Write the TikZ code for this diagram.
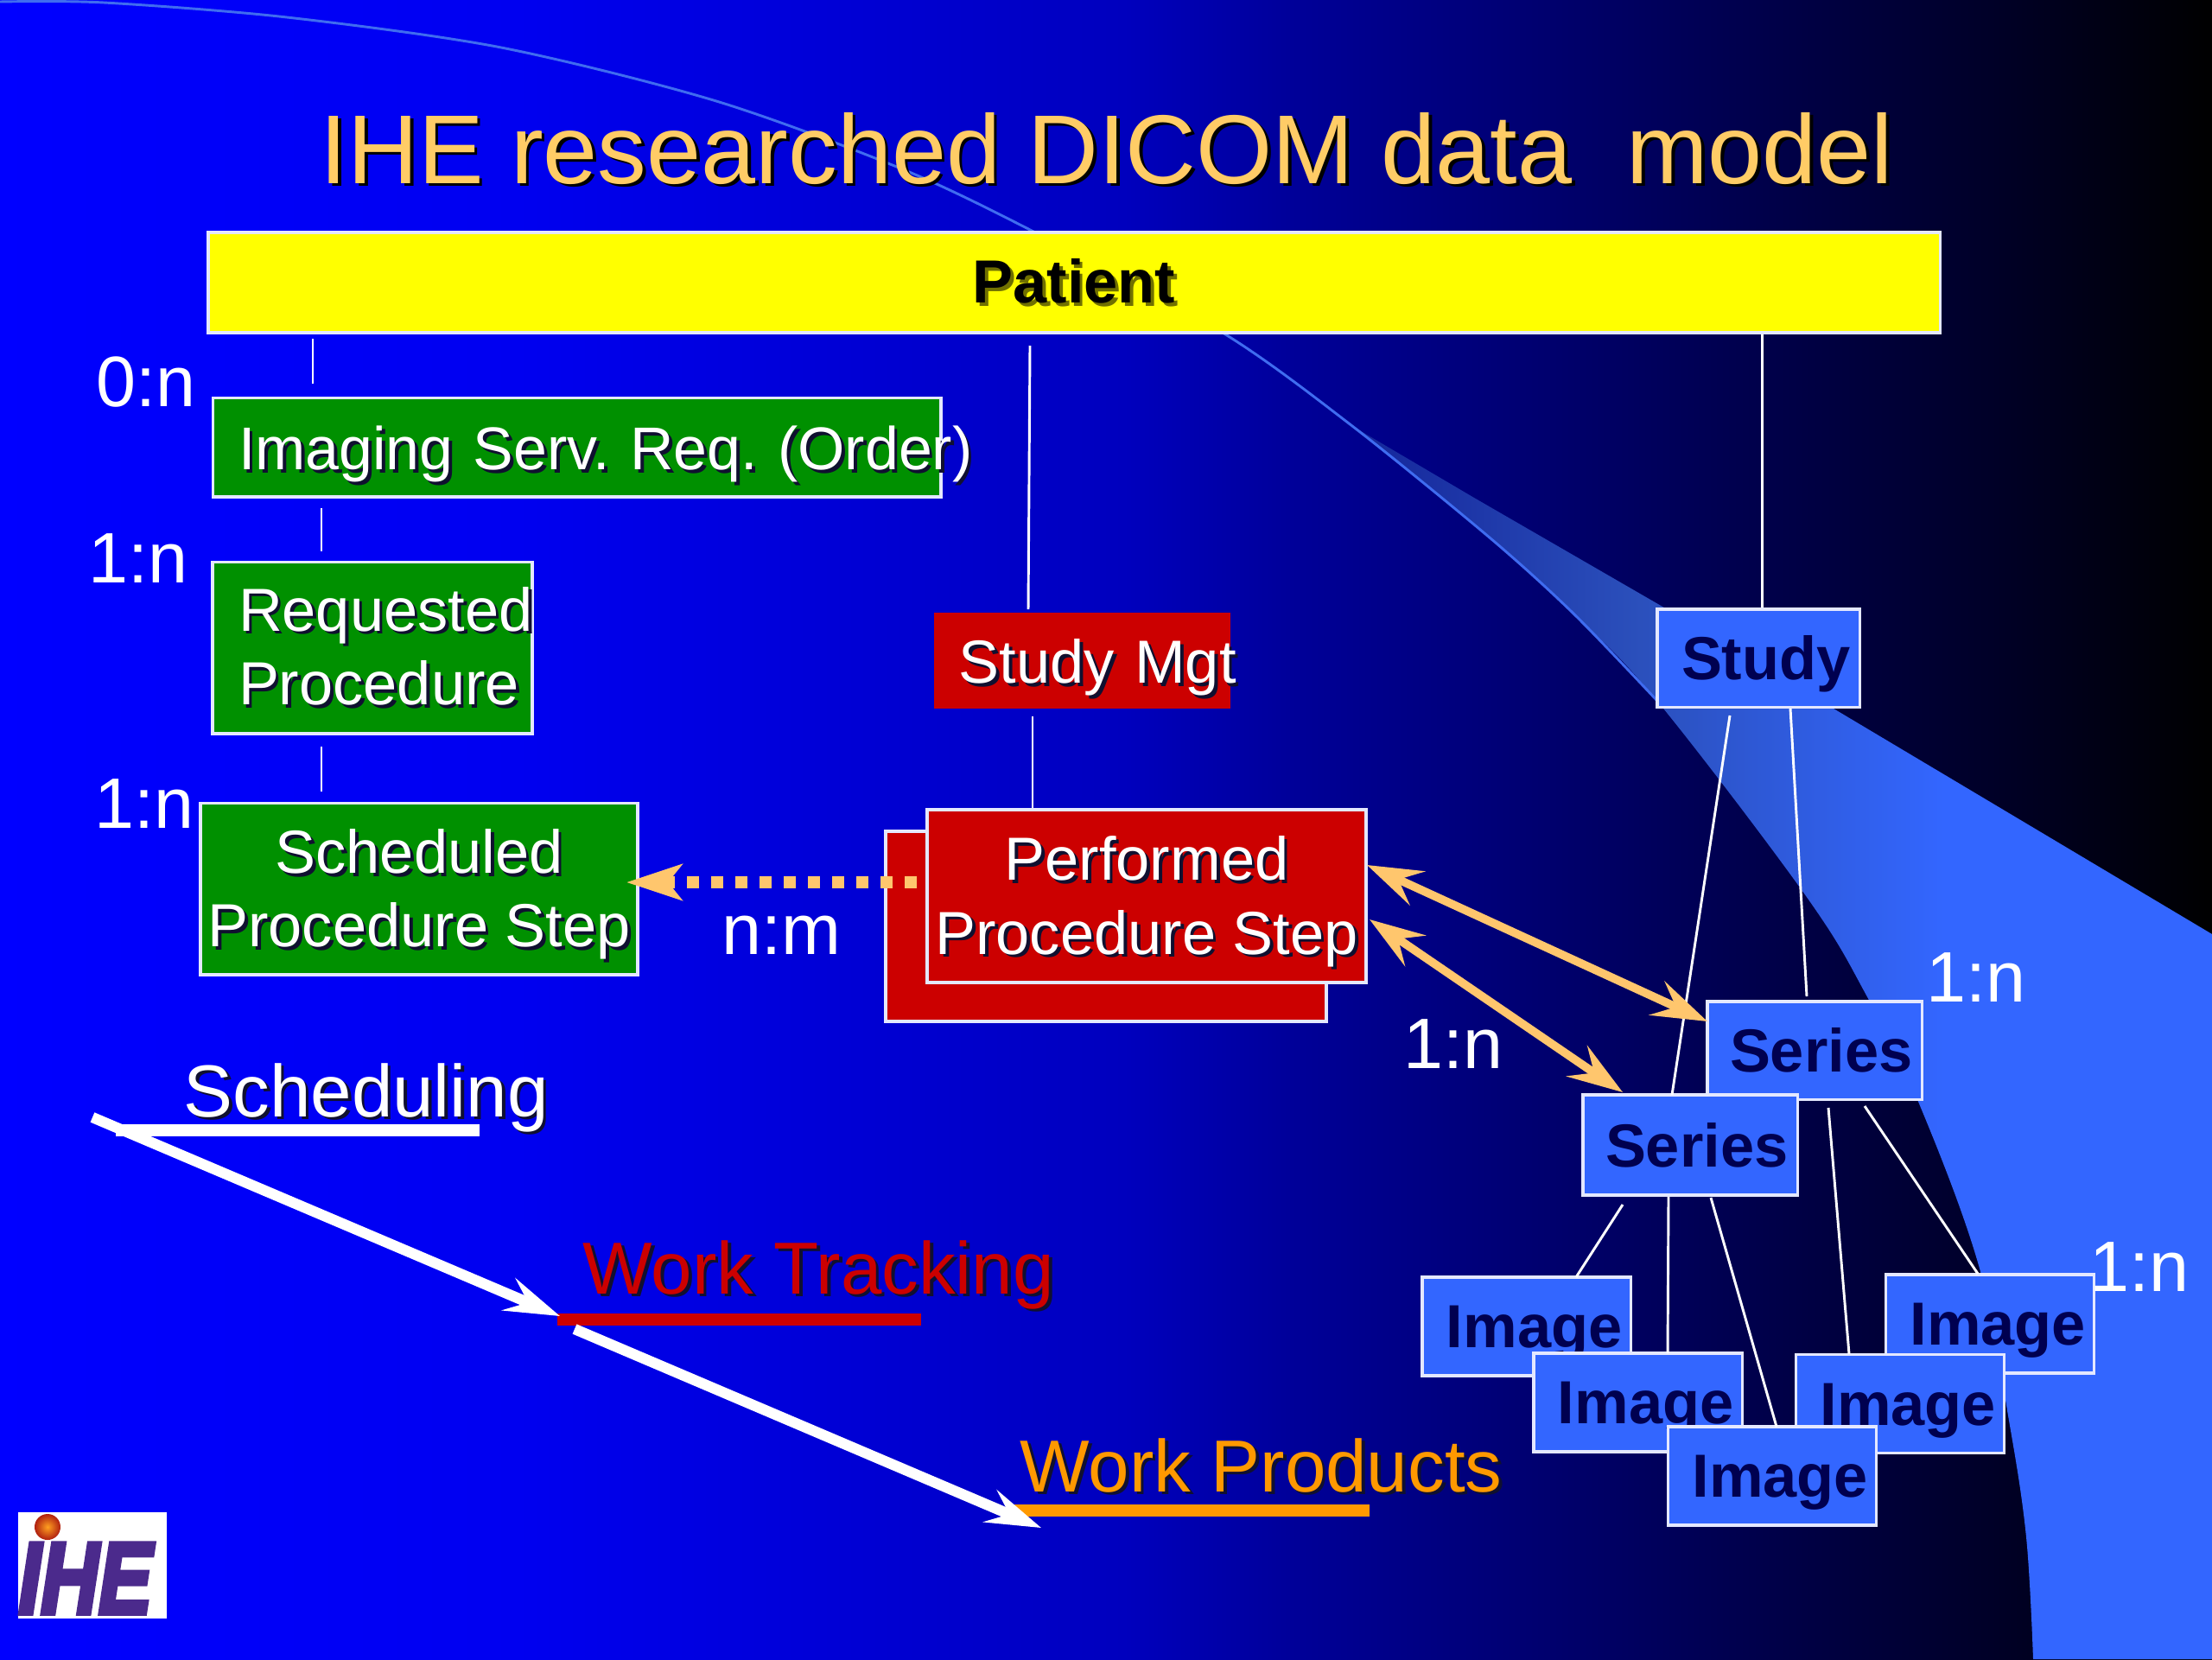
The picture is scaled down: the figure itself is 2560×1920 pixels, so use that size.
\documentclass[tikz,border=0pt]{standalone}
\usepackage{fontspec}
\setmainfont{Liberation Sans}
\newfontfamily\logofont[FakeBold=5]{Liberation Sans}
\usetikzlibrary{arrows.meta}
\frenchspacing
\definecolor{bgA}{HTML}{0000FF}\definecolor{bgB}{HTML}{0000F0}\definecolor{bgC}{HTML}{0000BE}
\definecolor{bgD}{HTML}{000098}\definecolor{bgE}{HTML}{000050}\definecolor{bgF}{HTML}{000028}\definecolor{bgG}{HTML}{000000}
\definecolor{swA}{HTML}{14259A}\definecolor{swB}{HTML}{2B50BC}\definecolor{swC}{HTML}{3366FF}
\definecolor{titlec}{HTML}{FFCC66}\definecolor{arrowc}{HTML}{FFC66D}\definecolor{prodc}{HTML}{FF9900}
\definecolor{greenc}{HTML}{009000}\definecolor{redc}{HTML}{CC0000}\definecolor{bluebox}{HTML}{3366FF}
\definecolor{navy}{HTML}{000050}\definecolor{edge}{HTML}{E4E8FF}\definecolor{shadowc}{HTML}{101030}
\definecolor{logoc}{HTML}{4B2A8C}\definecolor{arcc}{HTML}{3F6CF0}\definecolor{patientc}{HTML}{FFFF00}\definecolor{patshadow}{HTML}{707000}
\definecolor{ballA}{HTML}{FFA020}\definecolor{ballB}{HTML}{B02010}
\pgfdeclarehorizontalshading{slidebg}{100bp}{color(0bp)=(bgA);color(25bp)=(bgA);color(36.7bp)=(bgB);color(50.4bp)=(bgC);color(54.3bp)=(bgD);color(64bp)=(bgE);color(70bp)=(bgF);color(75bp)=(bgG);color(100bp)=(bgG)}
\pgfdeclarehorizontalshading{swooshbg}{100bp}{color(0bp)=(swA);color(25bp)=(swA);color(41.8bp)=(swB);color(59.4bp)=(swC);color(100bp)=(swC)}
\newcommand\shd[2][shadowc]{\leavevmode\rlap{\hspace{1.4pt}\raisebox{-1.4pt}{\textcolor{#1}{#2}}}#2}
\newcommand\lift[1]{\rule{0pt}{#1}}
\tikzset{
  boxbase/.style={rectangle,draw=edge,line width=1.15pt,inner ysep=0pt,font=\fontsize{26.4}{32}\selectfont},
  greenbox/.style={boxbase,fill=greenc,text=white},
  redbox/.style={boxbase,fill=redc,text=white},
  bluenode/.style={boxbase,fill=bluebox,text=navy,font=\fontsize{26.4}{32}\selectfont\bfseries},
  tie/.style={draw=white,line width=1.1pt},
  label31/.style={anchor=base west,inner sep=0pt,text=white,font=\fontsize{31}{36}\selectfont},
  stage/.style={anchor=base west,inner sep=0pt,font=\fontsize{32}{38}\selectfont},
  flow/.style={draw=white,line width=4.6pt,-{Stealth[length=24pt,width=15pt,inset=9pt]}},
  link/.style={draw=arrowc,line width=3.6pt,{Stealth[length=24pt,width=16pt,inset=9pt]}-{Stealth[length=24pt,width=16pt,inset=9pt]}},
  rule/.style={line width=5.6pt},
}
\begin{document}
\begin{tikzpicture}[x=0.375pt,y=-0.375pt]
\useasboundingbox (0,0) rectangle (2560,1920);
\path[shading=slidebg] (0,0) rectangle (2560,1920);
% swoosh
\path[shading=swooshbg] plot[smooth,tension=.6] coordinates {(1565,493) (1725,623) (1821,710) (1917,810) (2088,1034) (2159,1150) (2223,1282) (2291,1468) (2325,1644) (2345,1779) (2353,1920)} -- (2560,1920) -- (2560,1081) -- (1924,702) -- (1706,576) -- cycle;
\draw[arcc,line width=1.1pt] plot[smooth,tension=.5] coordinates {(0,2) (120,3) (332,20) (580,55) (829,117) (1045,196) (1200,270) (1415,385) (1565,493) (1725,623) (1821,710) (1917,810)};
% title
\node[anchor=base,inner sep=0pt,text=titlec,font=\fontsize{42.5}{50}\selectfont] (title) at (1281,212) {\shd[black]{IHE researched DICOM data\ \ model}};
% boxes
\node[boxbase,fill=patientc,text=black,font=\fontsize{26.4}{32}\selectfont\bfseries,minimum width=751.5pt,minimum height=43.5pt] (patient) at (1243,327) {\shd[patshadow]{Patient}};
\node[greenbox,minimum height=43.1pt,text width=293.6pt,inner xsep=11.25pt,align=left] (order) at (667.5,517.5) {\lift{26.6pt}\mbox{\fontsize{26.2}{32}\selectfont\shd{Imaging Serv. Req. (Order)}}};
\node[greenbox,minimum height=74.6pt,text width=116.25pt,inner xsep=11.25pt,align=left] (reqproc) at (431,749.5) {\mbox{\shd{Requested}}\\\mbox{\shd{Procedure}}};
\node[greenbox,minimum width=189.75pt,minimum height=74.6pt,inner xsep=0pt,align=center] (sps) at (485,1028.5) {\lift{25.2pt}\shd{Scheduled}\\\shd{Procedure Step}};
\node[redbox,draw=none,minimum height=41.6pt,text width=107pt,inner xsep=10.8pt,align=left] (mgt) at (1252.5,764.5) {\lift{26.6pt}\mbox{\shd{Study Mgt}}};
\node[redbox,minimum width=191.25pt,minimum height=82.5pt] (ppsback) at (1280,1072) {};
\node[redbox,minimum width=190.5pt,minimum height=75pt,inner xsep=0pt,align=center] (pps) at (1327,1037) {\lift{25.2pt}\shd{Performed}\\\shd{Procedure Step}};
\node[bluenode,minimum height=42.4pt,text width=66.75pt,inner xsep=10.5pt,align=left] (study) at (2035,761.5) {\lift{24pt}\mbox{Study}};
\node[bluenode,minimum height=42.4pt,text width=73.5pt,inner xsep=9.75pt,align=left] (seriesR) at (2100,1215.5) {\mbox{Series}};
\node[bluenode,minimum height=43.5pt,text width=73.5pt,inner xsep=9.75pt,align=left] (seriesL) at (1956,1325) {\mbox{Series}};
\tikzset{imgbox/.style={bluenode,minimum height=42.75pt,text width=69.4pt,inner xsep=10.5pt,align=left}}
\node[imgbox] (imgA) at (1766.5,1535) {\lift{24.2pt}\mbox{Image}};
\node[imgbox] (imgC) at (2303,1532) {\lift{24.2pt}\mbox{Image}};
\node[imgbox] (imgB) at (1895.5,1623) {\lift{24.2pt}\mbox{Image}};
\node[imgbox] (imgD) at (2199,1624.5) {\lift{24.2pt}\mbox{Image}};
\node[imgbox] (imgE) at (2051,1708) {\lift{24.2pt}\mbox{Image}};
% free ends of the connecting lines
\coordinate (t1a) at (362,392); \coordinate (t1b) at (362,444);
\coordinate (t2a) at (372,588); \coordinate (t2b) at (372,638);
\coordinate (t3a) at (372,864); \coordinate (t3b) at (372,916);
\coordinate (t4a) at (1192,400); \coordinate (t4b) at (1190,705);
\coordinate (t5a) at (1195,829);
\coordinate (t7a) at (2002,828); \coordinate (t7b) at (1935,1267);
\coordinate (t8a) at (2072,820); \coordinate (t8b) at (2091,1153);
\coordinate (t9a) at (1878,1394); \coordinate (t9b) at (1824,1478);
\coordinate (t10a) at (1931,1385); \coordinate (t10b) at (1930,1566);
\coordinate (t11a) at (1980,1386); \coordinate (t11b) at (2056,1651);
\coordinate (t12a) at (2116,1282); \coordinate (t12b) at (2140,1567);
\coordinate (t13a) at (2158,1280); \coordinate (t13b) at (2289,1474);
\draw[tie] (t1a) -- (t1b);
\draw[tie] (t2a) -- (t2b);
\draw[tie] (t3a) -- (t3b);
\draw[tie] (t4a) -- (t4b);
\draw[tie] (t5a) -- (t5a |- pps.north);
\draw[tie] (patient.south -| study.north) ++(4,0) -- ([xshift=1.5pt]study.north);
\draw[tie] (t7a) -- (t7b);
\draw[tie] (t8a) -- (t8b);
\draw[tie] (t9a) -- (t9b);
\draw[tie] (t10a) -- (t10b);
\draw[tie] (t11a) -- (t11b);
\draw[tie] (t12a) -- (t12b);
\draw[tie] (t13a) -- (t13b);
% orange arrows
\coordinate (a1) at (1582,1001); \coordinate (a2) at (1976,1182);
\coordinate (a3) at (1585,1064); \coordinate (a4) at (1878,1264);
\draw[link] (a1) -- (a2);
\draw[link] (a3) -- (a4);
\coordinate (dotS) at (1061,1021); \coordinate (dotE) at (725,1021);
\draw[draw=arrowc,line width=5pt,dash pattern=on 5.25pt off 5.25pt,-{Stealth[length=24pt,width=15.5pt,inset=6pt]}] (dotS) -- (dotE);
% ratio labels
\node[label31] (r0) at (111,470) {0:n};
\node[label31] (r1) at (102,674) {1:n};
\node[label31] (r2) at (109,958) {1:n};
\node[label31] (r3) at (835,1104) {n:m};
\node[label31] (r4) at (1624,1236) {1:n};
\node[label31] (r5) at (2229,1159) {1:n};
\node[label31] (r6) at (2418,1494) {1:n};
% stages
\node[stage,text=white] (sch) at (212,1292) {\shd{Scheduling}};
\node[stage,text=redc] (trk) at (674,1497) {\shd{Work Tracking}};
\node[stage,text=prodc] (prd) at (1180,1726) {\shd{Work Products}};
\coordinate (u1a) at (134,1308); \coordinate (u1b) at (555,1308);
\coordinate (u2a) at (645,1527); \coordinate (u2b) at (1066,1527);
\coordinate (u3a) at (1174,1748); \coordinate (u3b) at (1585,1748);
\draw[rule,white] (u1a) -- (u1b);
\draw[rule,redc] (u2a) -- (u2b);
\draw[rule,prodc] (u3a) -- (u3b);
\coordinate (f1a) at (107,1293); \coordinate (f1b) at (648,1523);
\coordinate (f2a) at (665,1538); \coordinate (f2b) at (1205,1768);
\draw[flow] (f1a) -- (f1b);
\draw[flow] (f2a) -- (f2b);
% logo
\fill[white] (21,1750) rectangle (193,1873);
\shade[inner color=ballA,outer color=ballB] (55,1767) circle (15);
\node[anchor=base west,inner sep=0pt,text=logoc] (logo) at (21,1867) {\scalebox{.79}[1]{\logofont\fontsize{44}{44}\selectfont\bfseries\itshape IHE}};
\end{tikzpicture}
\end{document}
